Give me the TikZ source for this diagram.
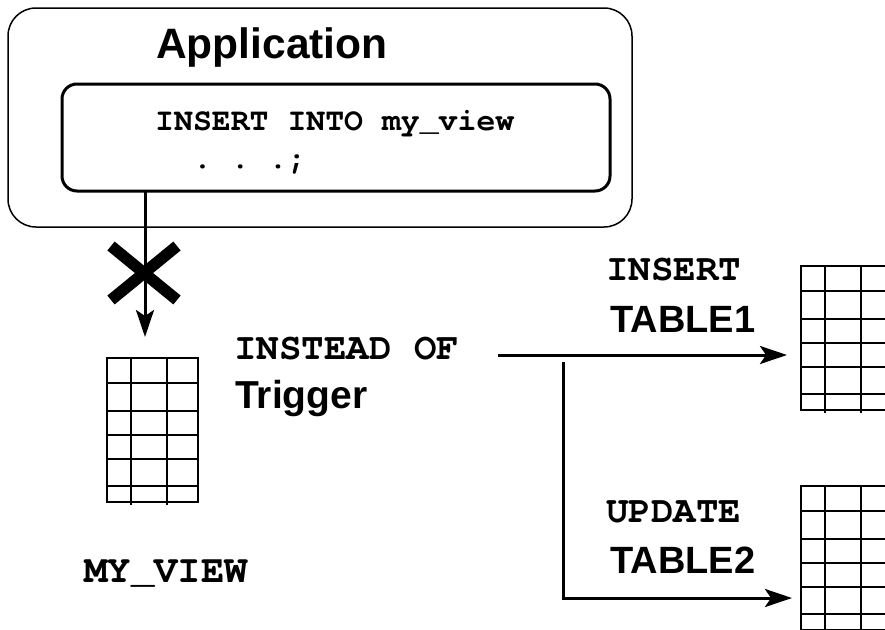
\documentclass[tikz,border=0pt]{standalone}
\usepackage{fontspec}
\usetikzlibrary{arrows.meta,calc}
\newfontfamily\hsans{Liberation Sans}
\newfontfamily\cmono{TeX Gyre Cursor}
\tikzset{
  outerbox/.style={draw, line width=1.5pt, rounded corners=28pt, inner sep=0pt},
  innerbox/.style={draw, line width=3pt, rounded corners=15pt, inner sep=0pt},
  sanslbl/.style={anchor=base west, inner sep=0pt, font=\hsans\bfseries\fontsize{38}{44}\selectfont},
  monolbl/.style={anchor=base west, inner sep=0pt, font=\cmono\bfseries\fontsize{37.5}{42}\selectfont},
  conn/.style={line width=3pt, -{Stealth[length=27pt,width=18pt,inset=6pt]}},
  gridline/.style={line width=2pt},
  dbtable/.pic={
    \draw[gridline] (0,0) rectangle (91,144);
    \foreach \yy in {25,53,77,101,128} \draw[gridline] (0,\yy) -- (91,\yy);
    \foreach \xx in {24,60} \draw[gridline] (\xx,0) -- (\xx,147);
    \coordinate (-top) at (45.5,0);
  }
}
\begin{document}
\begin{tikzpicture}[x=1pt,y=-1pt]
\useasboundingbox (0,0) rectangle (885,629);
\clip (0,0) rectangle (885,629);

% application boxes
\node[outerbox, minimum width=624pt, minimum height=219pt] (app) at (320,117.5) {};
\node[innerbox, minimum width=548pt, minimum height=107pt] (stmt) at (336,137.5) {};

\node[sanslbl, font=\hsans\bfseries\fontsize{42.5}{48}\selectfont] (apptitle) at (156,58) {Application};
\node[monolbl, font=\cmono\bfseries\fontsize{31.5}{36}\selectfont] (sql1) at (155,130) {INSERT INTO my\_view};
\node[monolbl, font=\cmono\bfseries\fontsize{31.5}{36}\selectfont] (sql2) at (155,168) {\phantom{II}.\phantom{I}.\phantom{I}.;};

% tables
\pic (myview) at (107,358) {dbtable};
\pic (tabone) at (801,266) {dbtable};
\pic (tabtwo) at (801,486) {dbtable};

% labels
\node[monolbl] (instead) at (234,359) {INSTEAD OF};
\node[sanslbl, font=\hsans\bfseries\fontsize{39}{44}\selectfont] (trigger) at (235,408) {Trigger};
\node[monolbl, font=\cmono\bfseries\fontsize{39}{44}\selectfont] (viewname) at (84,582) {MY\_VIEW};
\node[monolbl] (insertlbl) at (606,280) {INSERT};
\node[sanslbl] (tabonelbl) at (610,332) {TABLE1};
\node[monolbl] (updatelbl) at (606,522) {UPDATE};
\node[sanslbl] (tabtwolbl) at (610,573) {TABLE2};

% connectors
\coordinate (downstart) at (145,191);
\coordinate (downend) at (145,337);
\draw[conn] (downstart) -- (downend);
\coordinate (xmark) at (144,273);
\draw[line width=11.5pt] ($(xmark)+(-33,-27)$) -- ($(xmark)+(33,27)$);
\draw[line width=11.5pt] ($(xmark)+(33,-27)$) -- ($(xmark)+(-33,27)$);

\coordinate (hstart) at (498,355);
\coordinate (hend) at (787,355);
\draw[conn] (hstart) -- (hend);
\coordinate (bstart) at (563,362);
\coordinate (bend) at (792,598);
\draw[conn] (bstart) |- (bend);
\end{tikzpicture}
\end{document}
